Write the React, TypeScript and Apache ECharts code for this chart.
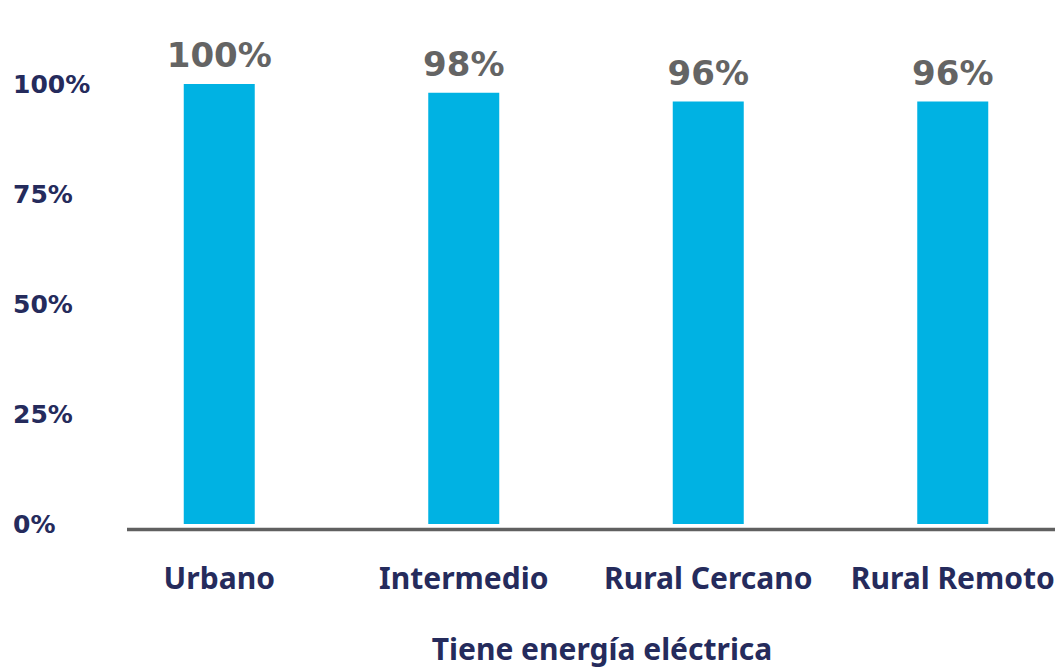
import React, { useEffect, useRef } from "react";
import * as echarts from "echarts";

// Share of households with electricity, by area type
const categories: string[] = ["Urbano", "Intermedio", "Rural Cercano", "Rural Remoto"];
const values: number[] = [100, 98, 96, 96];
const yTicks: number[] = [0, 25, 50, 75, 100];
const axisTitle = "Tiene energía eléctrica";

const NAVY = "#252b5c";
const BAR = "#00b2e3";
const GREY = "#646464";
const WORD_FONT = "'Noto Sans', sans-serif";
const NUM_FONT = "'DejaVu Sans', sans-serif";

export default function App() {
  const ref = useRef<HTMLDivElement>(null);

  useEffect(() => {
    if (!ref.current) return;
    const chart = echarts.init(ref.current, undefined, { renderer: "svg" });
    chart.setOption({
      animation: false,
      backgroundColor: "#ffffff",
      // the last category band runs a little past the right edge of the page
      grid: { left: 97, width: 978, top: 84, height: 440 },
      xAxis: {
        type: "category",
        data: categories,
        axisLine: { show: false },
        axisTick: { show: false },
        axisLabel: {
          margin: 38,
          fontFamily: WORD_FONT,
          fontWeight: "bold",
          fontSize: 30,
          lineHeight: 30,
          color: NAVY,
          interval: 0,
        },
      },
      yAxis: {
        type: "value",
        min: yTicks[0],
        max: yTicks[yTicks.length - 1],
        interval: 25,
        splitLine: { show: false },
        axisLine: { show: false },
        axisTick: { show: false },
        axisLabel: {
          align: "left",
          margin: 84,
          fontFamily: NUM_FONT,
          fontWeight: "bold",
          fontSize: 25,
          color: NAVY,
          formatter: (v: number) => `${v}%`,
        },
      },
      graphic: [
        {
          type: "line",
          shape: { x1: 127, y1: 529.5, x2: 1080, y2: 529.5 },
          style: { stroke: "#606060", lineWidth: 3.5 },
          silent: true,
        },
        {
          type: "text",
          x: 602,
          y: 648,
          style: {
            text: axisTitle,
            fontFamily: WORD_FONT,
            fontWeight: "bold",
            fontSize: 30,
            fill: NAVY,
            align: "center",
            verticalAlign: "middle",
          },
          silent: true,
        },
      ],
      series: [
        {
          type: "bar",
          data: values,
          barWidth: 71,
          itemStyle: { color: BAR },
          label: {
            show: true,
            position: "top",
            distance: 12,
            fontFamily: NUM_FONT,
            fontWeight: "bold",
            fontSize: 34,
            color: GREY,
            formatter: (p: { value: number }) => `${p.value}%`,
          },
        },
      ],
    });
    return () => chart.dispose();
  }, []);

  return (
    <div
      ref={ref}
      style={{ position: "fixed", left: 0, top: 0, width: 1080, height: 668 }}
    />
  );
}
